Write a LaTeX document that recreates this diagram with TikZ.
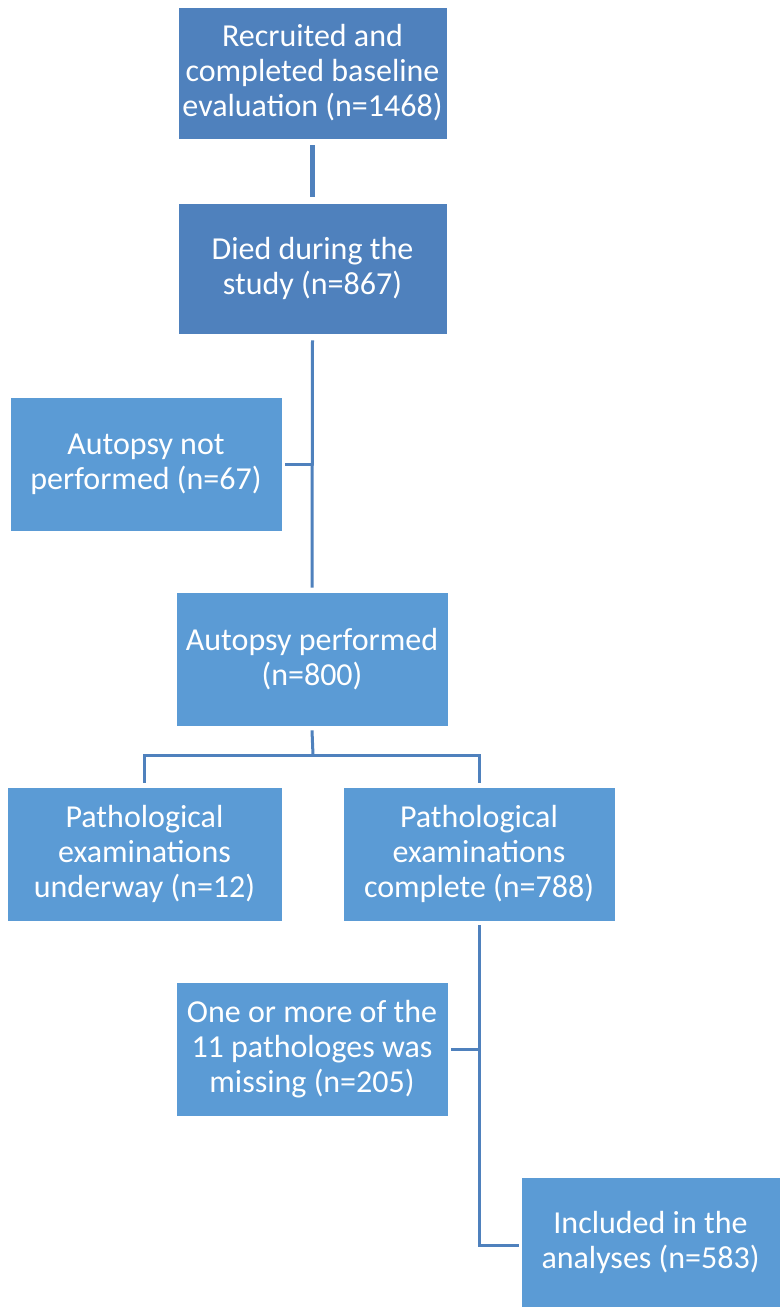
\documentclass[tikz,border=0pt]{standalone}
\usepackage{fontspec}
\setmainfont{Carlito}
\definecolor{dk}{HTML}{4F81BD}
\definecolor{lt}{HTML}{5B9BD5}
\definecolor{ln}{HTML}{4F81BD}
\begin{document}
\begin{tikzpicture}[x=1pt,y=-1pt,
  box/.style={rectangle, draw=white, line width=0.8pt, text=white, align=center,
    font=\fontsize{32}{35}\selectfont, inner sep=0pt},
  conn/.style={draw=ln, line width=3pt},
  connthick/.style={draw=ln, line width=5.5pt}]
\useasboundingbox (0,0) rectangle (780,1307);
\node[box, fill=dk, minimum width=269pt, minimum height=132pt] (a) at (312.5,73) {Recruited and\\completed baseline\\evaluation (n=1468)};
\node[box, fill=dk, minimum width=269pt, minimum height=131pt] (b) at (312.5,268.5) {Died during the\\study (n=867)};
\node[box, fill=lt, minimum width=272pt, minimum height=134pt] (c) at (146,464) {Autopsy not\\performed (n=67)};
\node[box, fill=lt, minimum width=272pt, minimum height=134pt] (d) at (312,659) {Autopsy performed\\(n=800)};
\node[box, fill=lt, minimum width=275pt, minimum height=134pt] (e) at (144.5,854) {Pathological\\examinations\\underway (n=12)};
\node[box, fill=lt, minimum width=272pt, minimum height=134pt] (f) at (479,854) {Pathological\\examinations\\complete (n=788)};
\node[box, fill=lt, minimum width=272pt, minimum height=134pt] (g) at (312,1049) {One or more of the\\11 pathologes was\\missing (n=205)};
\node[box, fill=lt, minimum width=259pt, minimum height=130pt] (h) at (650.5,1242) {Included in the\\analyses (n=583)};
\coordinate (j1) at (313,464);
\coordinate (j2) at (313,755);
\coordinate (j3) at (479,1049);
\coordinate (j4) at (479,1245);
\draw[connthick] ([yshift=-6pt]a.south) -- ([yshift=6pt]b.north);
\draw[conn] ([yshift=-6pt]b.south) -- ([yshift=4pt]d.north);
\draw[conn] ([xshift=3pt]c.east) -- (j1);
\draw[conn] ([yshift=-4pt]d.south) -- (j2);
\draw[conn] ([yshift=4pt]e.north) -- (e.north |- j2) -- (f.north |- j2) -- ([yshift=4pt]f.north);
\draw[conn] ([yshift=-4pt]f.south) -- (j4) -- ([xshift=-2pt]h.west |- j4);
\draw[conn] ([xshift=3pt]g.east) -- (j3);
\end{tikzpicture}
\end{document}
